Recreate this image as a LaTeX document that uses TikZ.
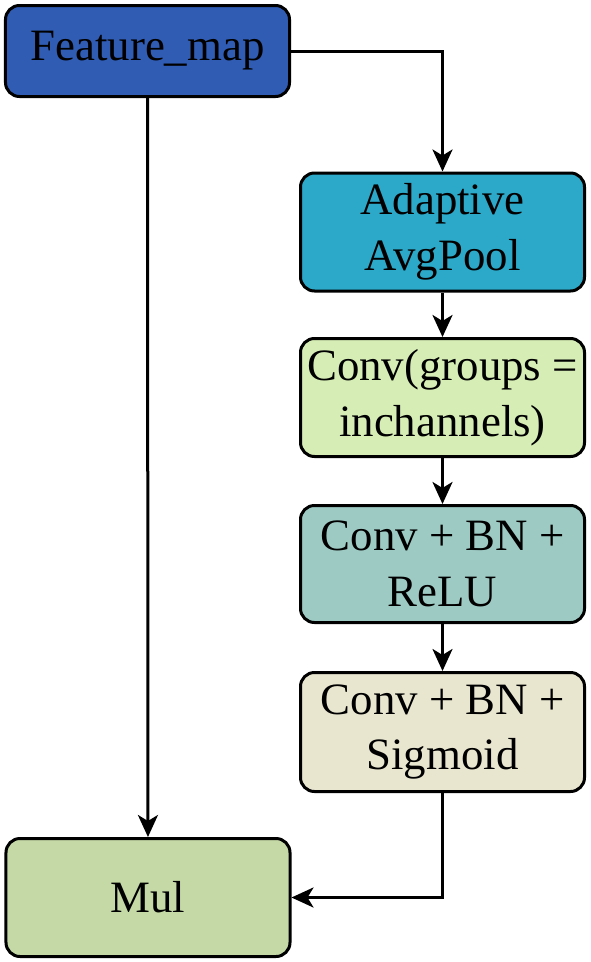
\documentclass[tikz,border=0pt]{standalone}
\usepackage{fontspec}
\setmainfont{Liberation Serif}
\usetikzlibrary{arrows.meta}
\definecolor{fmapblue}{RGB}{48,92,180}
\definecolor{poolcyan}{RGB}{44,168,200}
\definecolor{groupgreen}{RGB}{214,237,182}
\definecolor{relugrey}{RGB}{158,202,196}
\definecolor{sigmbeige}{RGB}{233,230,208}
\definecolor{mulgreen}{RGB}{196,217,166}
\tikzset{
  block/.style={draw=black,line width=3bp,rounded corners=14bp,
    minimum width=284bp,minimum height=118bp,align=center,
    font=\fontsize{45}{56}\selectfont,inner sep=0pt},
  flow/.style={line width=3bp,-{Stealth[length=22bp,width=20bp,inset=6bp]}}
}
\begin{document}
\begin{tikzpicture}[x=1bp,y=-1bp]
\useasboundingbox (0,0) rectangle (591,962);
\node [block,fill=fmapblue,minimum height=91bp] (fmap) at (147.5,51) {Feature\_map};
\node [block,fill=poolcyan] (pool) at (442.5,232) {Adaptive\\AvgPool};
\node [block,fill=groupgreen] (group) at (442.5,397.5) {Conv(groups =\\inchannels)};
\node [block,fill=relugrey,minimum height=117bp] (relu) at (442.5,564) {Conv + BN +\\ReLU};
\node [block,fill=sigmbeige,minimum height=119bp] (sigm) at (442.5,732) {Conv + BN +\\Sigmoid};
\node [block,fill=mulgreen] (mul) at (148,897.5) {Mul};
% connectors
\draw [flow] (fmap.east) -| (pool.north);
\draw [flow] (pool) -- (group);
\draw [flow] (group) -- (relu);
\draw [flow] (relu) -- (sigm);
\draw [flow] (sigm.south) |- (mul.east);
\draw [flow] (fmap) -- (mul);
\end{tikzpicture}
\end{document}
